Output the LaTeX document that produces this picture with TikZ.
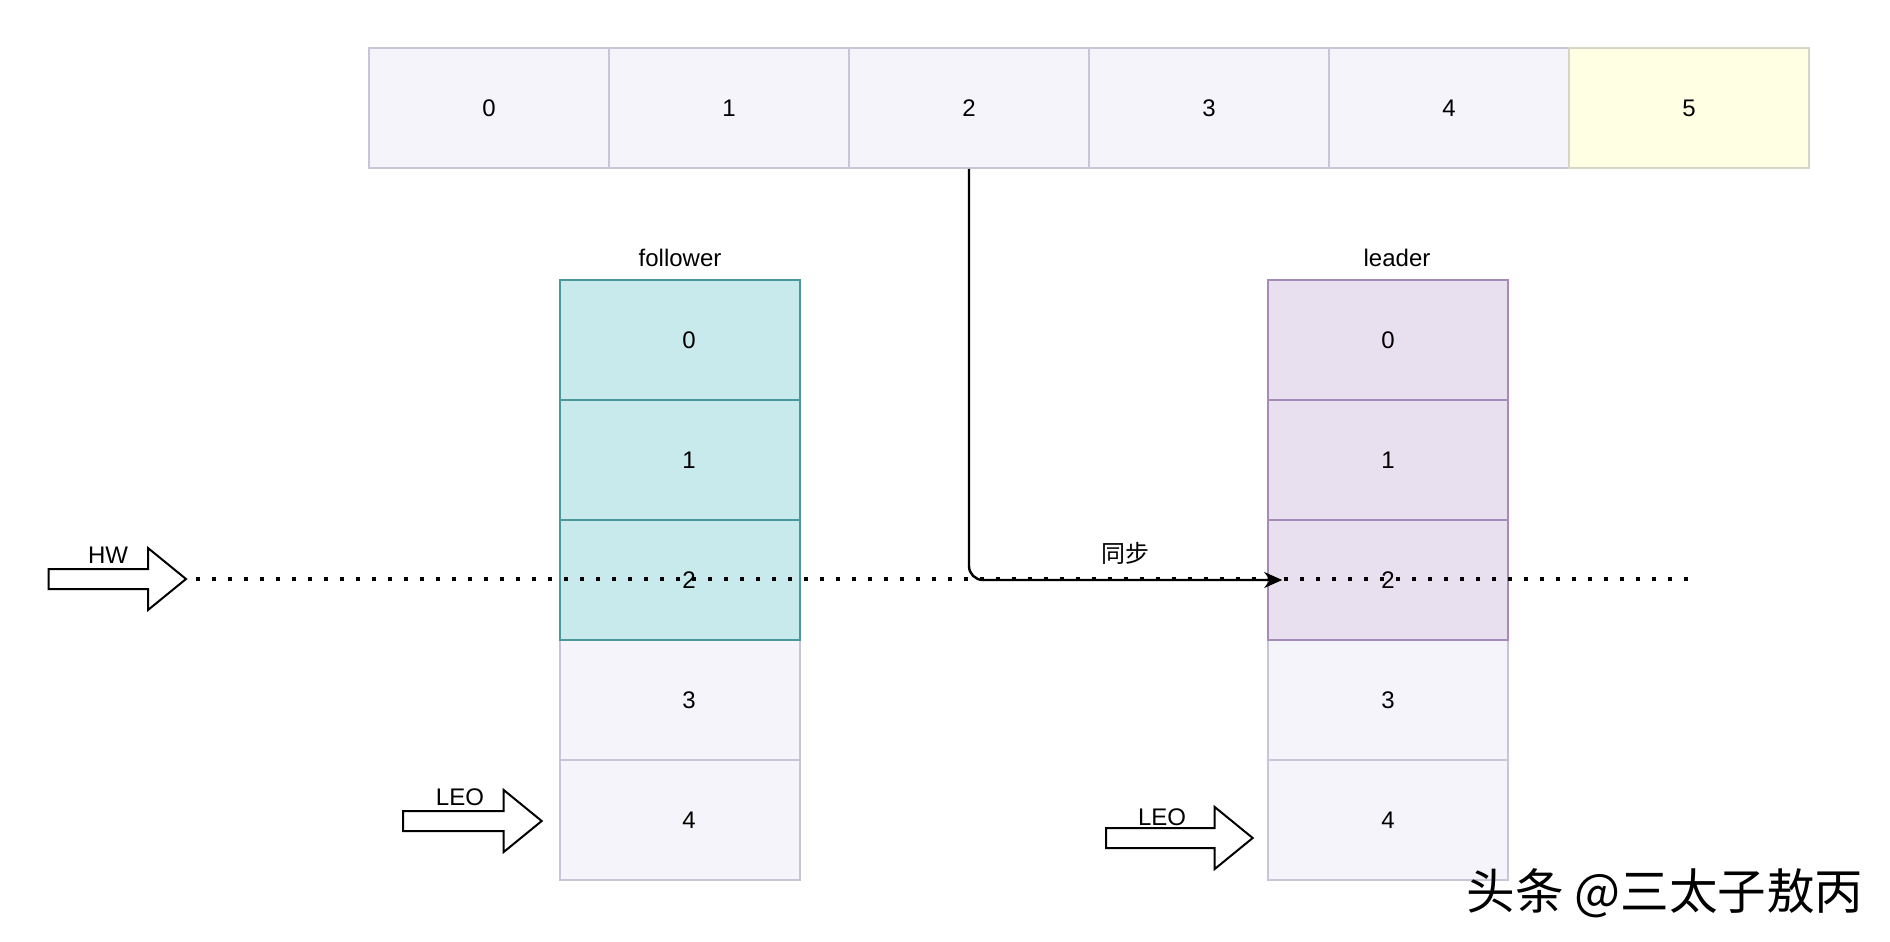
\documentclass[12pt,tikz,border=0pt]{standalone}
\usepackage{fontspec}
\setmainfont{Liberation Sans}
\newfontfamily\cjk{Noto Sans CJK SC}
\usepackage{tikz}
\usetikzlibrary{positioning,calc,arrows.meta}

\definecolor{cellfill}{RGB}{245,244,250}
\definecolor{celldraw}{RGB}{200,198,214}
\definecolor{newfill}{RGB}{255,255,228}
\definecolor{newdraw}{RGB}{214,214,200}
\definecolor{folfill}{RGB}{200,234,236}
\definecolor{foldraw}{RGB}{74,152,158}
\definecolor{leafill}{RGB}{232,224,239}
\definecolor{leadraw}{RGB}{166,138,186}

\tikzset{
	cell/.style={draw=celldraw, fill=cellfill, line width=0.8pt, minimum width=120pt, minimum height=60pt, inner sep=0pt},
	fcell/.style={cell, draw=foldraw, fill=folfill},
	lcell/.style={cell, draw=leadraw, fill=leafill},
	newcell/.style={cell, draw=newdraw, fill=newfill},
	fshift/.style={execute at begin node=\hspace*{9pt}},
	blockarr/.style={draw=black, fill=white, line width=1pt},
	hwline/.style={line width=2pt, dash pattern=on 2pt off 6pt}
}

% name, tail x, y, length
\newcommand{\blockarrow}[4]{%
	\filldraw[blockarr] (#2,#3-10) -- (#2+#4-38,#3-10) -- (#2+#4-38,#3-31) -- (#2+#4,#3) coordinate (#1) -- (#2+#4-38,#3+31) -- (#2+#4-38,#3+10) -- (#2,#3+10) -- cycle;}

\begin{document}
\begin{tikzpicture}[x=0.5pt,y=-0.5pt]
	\def\cw{240}
	\def\ch{120}
\useasboundingbox (0,0) rectangle (1890,942);

%Partitions du haut
\foreach \i in {0,...,4}
	\node[cell] (t\i) at (489+\cw*\i,108) {\i};
\node[newcell] (t5) at (489+\cw*5,108) {5};

%follower
\foreach \i in {3,4}
	\node[cell,fshift] (f\i) at (680,340+\ch*\i) {\i};
\foreach \i in {0,1,2}
	\node[fcell,fshift] (f\i) at (680,340+\ch*\i) {\i};
\node[above=2pt of f0] (ftitle) {follower};

%leader
\foreach \i in {3,4}
	\node[cell] (l\i) at (1388,340+\ch*\i) {\i};
\foreach \i in {0,1,2}
	\node[lcell] (l\i) at (1388,340+\ch*\i) {\i};
\node[above=2pt of l0, xshift=4.5pt] (ltitle) {leader};

%HW
\blockarrow{hwtip}{48.6}{579}{137.4}
\node (hw) at (108,555) {HW};
\coordinate (hwend) at (1692,579);
\draw[hwline] ([xshift=5pt]hwtip) -- (hwend);

%LEO
\blockarrow{fleotip}{403}{821}{138.7}
\node (fleo) at (460,797) {LEO};
\blockarrow{lleotip}{1106}{838}{146.7}
\node (lleo) at (1162,817) {LEO};

%Synchro
\draw[line width=1.2pt, rounded corners=7pt, -{Stealth[length=9pt,width=8pt]}] (t2.south) |- ([xshift=7.5pt]l2.west) node[pos=0.75, above=3pt, font=\cjk] (sync) {同步};

\node[font=\cjk\fontsize{24.3}{28}\selectfont] (wm) at (1665,893) {头条 @三太子敖丙};

\end{tikzpicture}
\end{document}
